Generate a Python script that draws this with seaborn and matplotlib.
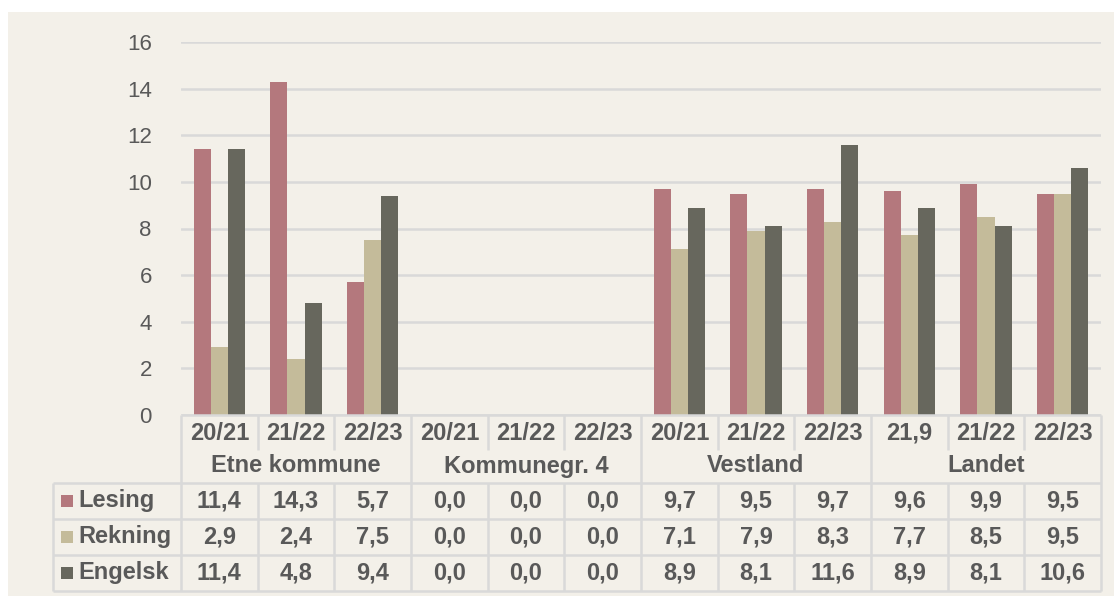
import matplotlib

matplotlib.use("Agg")

import matplotlib.pyplot as plt
import pandas as pd
import seaborn as sns
from matplotlib.patches import Rectangle

# Data
years = ["20/21", "21/22", "22/23", "20/21", "21/22", "22/23",
         "20/21", "21/22", "22/23", "21,9", "21/22", "22/23"]
groups = ["Etne kommune", "Kommunegr. 4", "Vestland", "Landet"]
series = ["Lesing", "Rekning", "Engelsk"]
lesing = [11.4, 14.3, 5.7, 0.0, 0.0, 0.0, 9.7, 9.5, 9.7, 9.6, 9.9, 9.5]
rekning = [2.9, 2.4, 7.5, 0.0, 0.0, 0.0, 7.1, 7.9, 8.3, 7.7, 8.5, 9.5]
engelsk = [11.4, 4.8, 9.4, 0.0, 0.0, 0.0, 8.9, 8.1, 11.6, 8.9, 8.1, 10.6]

# Style
BG = "#F3F0E9"
GRID = "#D9D9D9"
TEXT = "#595959"
COLORS = ["#B4787D", "#C4BB9A", "#67675D"]
FONT = "Liberation Sans"
FS_TICK = 16
FS = 17

W, H = 1114, 596

sns.set_theme(style="white")
plt.rcParams["font.family"] = [FONT, "DejaVu Sans"]

values = {"Lesing": lesing, "Rekning": rekning, "Engelsk": engelsk}
rows = []
for s in series:
    for i, v in enumerate(values[s]):
        rows.append({"pos": i, "fag": s, "verdi": v})
df = pd.DataFrame(rows)

fig = plt.figure(figsize=(W / 100, H / 100), dpi=100)
fig.patch.set_facecolor("white")
fig.patches.append(Rectangle((8 / W, 0), 1 - 8 / W, (H - 12) / H,
                             transform=fig.transFigure, facecolor=BG,
                             edgecolor="none", zorder=-10))

# pixel layout
px_left, px_right = 181, 1101
px_zero, px_top = 415, 42
px_tab_left, px_tab_bottom = 53, 591

ax = fig.add_axes([px_left / W, (H - px_zero) / H,
                   (px_right - px_left) / W, (px_zero - px_top) / H])
ax.set_facecolor("none")
sns.barplot(data=df, x="pos", y="verdi", hue="fag", hue_order=series,
            palette=COLORS, width=0.67, gap=0, saturation=1, linewidth=0,
            legend=False, ax=ax, zorder=3)
ax.set_xlim(-0.5, len(years) - 0.5)
ax.set_ylim(0, 16)
ax.set_yticks(range(0, 17, 2))
ax.set_yticklabels([str(t) for t in range(0, 17, 2)])
ax.yaxis.grid(True, color=GRID, linewidth=1.8, zorder=0)
ax.set_axisbelow(True)
ax.tick_params(axis="y", length=0, pad=21, labelsize=FS_TICK, labelcolor=TEXT)
ax.tick_params(axis="x", length=0, labelbottom=False)
ax.set_xlabel("")
ax.set_ylabel("")
for sp in ax.spines.values():
    sp.set_visible(False)

# Data table below the chart
col_w = (px_right - px_left) / len(years)
tab = fig.add_axes([px_tab_left / W, (H - px_tab_bottom) / H,
                    (px_right - px_tab_left) / W, (px_tab_bottom - px_zero) / H])
tab.set_facecolor("none")
x0 = -0.5 - (px_left - px_tab_left) / col_w
x1 = len(years) - 0.5
tab.set_xlim(x0, x1)
tab.set_ylim(px_tab_bottom - px_zero, 0)
tab.axis("off")

lkw = dict(color=GRID, linewidth=1.8, solid_capstyle="butt", clip_on=False)
y_group = 68
row_lines = [68, 104, 140, 176]
# horizontal lines
tab.plot([-0.5, x1], [0, 0], **lkw)
for yl in row_lines:
    tab.plot([x0, x1], [yl, yl], **lkw)
# vertical lines
for b in range(len(years) + 1):
    xb = b - 0.5
    if b % 3 == 0:
        tab.plot([xb, xb], [0, 176], **lkw)
    else:
        tab.plot([xb, xb], [0, 35], **lkw)
        tab.plot([xb, xb], [y_group, 176], **lkw)
tab.plot([x0, x0], [y_group, 176], **lkw)

tkw = dict(ha="center", va="center", fontsize=FS, fontweight="bold", color=TEXT)
for i, yr in enumerate(years):
    tab.text(i, 18, yr, **tkw)
for g, name in enumerate(groups):
    tab.text(g * 3 + 1, 51, name, **tkw)
for r, s in enumerate(series):
    yc = (row_lines[r] + row_lines[r + 1]) / 2
    for i, v in enumerate(values[s]):
        tab.text(i, yc, f"{v:.1f}".replace(".", ","), **tkw)
    tab.add_patch(Rectangle((x0 + 8 / col_w, yc - 6), 12 / col_w, 12,
                            facecolor=COLORS[r], edgecolor="none"))
    tab.text(x0 + 25 / col_w, yc, s, ha="left", va="center", fontsize=FS,
             fontweight="bold", color=TEXT)

fig.savefig("out.png", dpi=100, facecolor=fig.get_facecolor())
